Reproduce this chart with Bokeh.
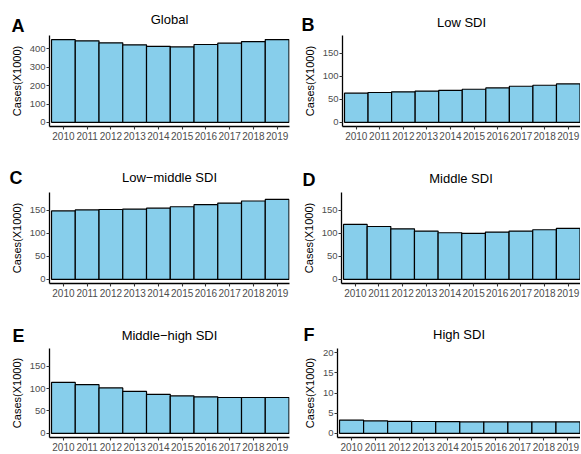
from bokeh.plotting import figure
from bokeh.models import Range1d, FixedTicker, Label
from bokeh.layouts import column, row
from bokeh.embed import file_html
from bokeh.resources import INLINE

years = [2010, 2011, 2012, 2013, 2014, 2015, 2016, 2017, 2018, 2019]
global_cases = [450, 444, 433, 422, 414, 411, 424, 431, 440, 451]
low_sdi = [63.6, 65, 66.5, 68, 69.4, 72, 75, 78.6, 80.8, 83.6]
low_middle_sdi = [149, 151, 152, 153, 155, 158, 162.5, 166, 170.5, 174]
middle_sdi = [119.6, 115, 110, 105, 101.4, 100, 103, 105, 108, 111]
middle_high_sdi = [113.6, 108.6, 101.4, 93.6, 87, 83.6, 81.4, 80, 80, 80]
high_sdi = [3.3, 3.1, 3.0, 2.95, 2.9, 2.85, 2.85, 2.85, 2.85, 2.85]

titles = ["Global", "Low SDI", "Low\u2212middle SDI", "Middle SDI", "Middle\u2212high SDI", "High SDI"]
letters = ["A", "B", "C", "D", "E", "F"]
series = [global_cases, low_sdi, low_middle_sdi, middle_sdi, middle_high_sdi, high_sdi]
y_limits = [(-22.5, 473), (-9, 189), (-9, 189), (-9, 189), (-9, 189), (-1, 21)]
y_ticks = [[0, 100, 200, 300, 400], [0, 50, 100, 150], [0, 50, 100, 150],
           [0, 50, 100, 150], [0, 50, 100, 150], [0, 5, 10, 15, 20]]

FONT = "Liberation Sans"
FILL = "#87CEEB"

# rows: (header height, chart height, chart top border, chart bottom border)
row_geom = [(35, 115, 0, 24), (42, 108, 0, 17), (46, 107, 2, 16)]
# panels: (width, left border, right border)
col_geom = [(290, 49, 1), (290, 52, 0), (290, 49, 1), (290, 51, 0), (290, 49, 1), (290, 47, 0)]
# header text placement: (letter x, letter baseline y, title baseline y)
head_pos = [(11, 5, 11), (11, 6, 8), (9, 10, 10), (12, 8, 9), (12, 6, 6), (13, 7, 7)]
SHIFT = 5  # measured offset of label baselines in header strips

blocks = []
for r in range(3):
    head_row, chart_row = [], []
    hh, ch, bt, bb = row_geom[r]
    for c in range(2):
        i = r * 2 + c
        w, bl, br = col_geom[i]
        fw = w - bl - br
        # header strip holding the panel letter and title
        hdr = figure(width=w, height=hh, output_backend="svg", toolbar_location=None,
                     x_range=Range1d(0, w), y_range=Range1d(0, hh),
                     x_axis_type=None, y_axis_type=None,
                     min_border=0, min_border_left=0, min_border_right=0,
                     min_border_top=0, min_border_bottom=0)
        hdr.outline_line_color = None
        hdr.grid.visible = False
        lx, ly, ty = head_pos[i]
        hdr.add_layout(Label(x=lx, y=ly + SHIFT, x_units="screen", y_units="screen",
                             text=letters[i], text_font=FONT, text_font_size="18px",
                             text_font_style="bold", text_color="black",
                             text_baseline="alphabetic"))
        hdr.add_layout(Label(x=bl + fw / 2, y=ty + SHIFT, x_units="screen", y_units="screen",
                             text=titles[i], text_font=FONT, text_font_size="13px",
                             text_font_style="normal", text_color="black",
                             text_align="center", text_baseline="alphabetic"))
        head_row.append(hdr)

        p = figure(width=w, height=ch, output_backend="svg", toolbar_location=None,
                   x_range=Range1d(2009.415, 2019.52),
                   y_range=Range1d(*y_limits[i]),
                   min_border_left=bl, min_border_right=br,
                   min_border_top=bt, min_border_bottom=bb)
        p.outline_line_color = None
        p.grid.visible = False
        p.background_fill_color = "white"
        p.border_fill_color = "white"

        p.vbar(x=years, top=series[i], bottom=0, width=1.0,
               fill_color=FILL, line_color="black", line_width=1.2)

        for ax in (p.xaxis[0], p.yaxis[0]):
            ax.axis_line_color = "black"
            ax.axis_line_width = 1.3
            ax.major_tick_line_color = "#333333"
            ax.major_tick_line_width = 1.1
            ax.major_tick_in = 0
            ax.major_tick_out = 3
            ax.minor_tick_line_color = None
            ax.major_label_text_font = FONT
            ax.major_label_text_color = "#4D4D4D"
        p.xaxis[0].major_label_text_font_size = "10px"
        p.xaxis[0].major_label_standoff = 2
        p.yaxis[0].major_label_text_font_size = "9.5px"
        p.yaxis[0].major_label_standoff = 1
        p.xaxis[0].ticker = FixedTicker(ticks=years)
        p.yaxis[0].ticker = FixedTicker(ticks=y_ticks[i])
        p.yaxis[0].axis_label = "Cases(X1000)"
        p.yaxis[0].axis_label_text_font = FONT
        p.yaxis[0].axis_label_text_font_size = "11px"
        p.yaxis[0].axis_label_text_font_style = "normal"
        p.yaxis[0].axis_label_text_color = "black"
        p.yaxis[0].axis_label_standoff = 4
        chart_row.append(p)
    blocks.append(row(*head_row))
    blocks.append(row(*chart_row))

layout = column(*blocks)
open("out.html", "w").write(file_html(layout, INLINE))
